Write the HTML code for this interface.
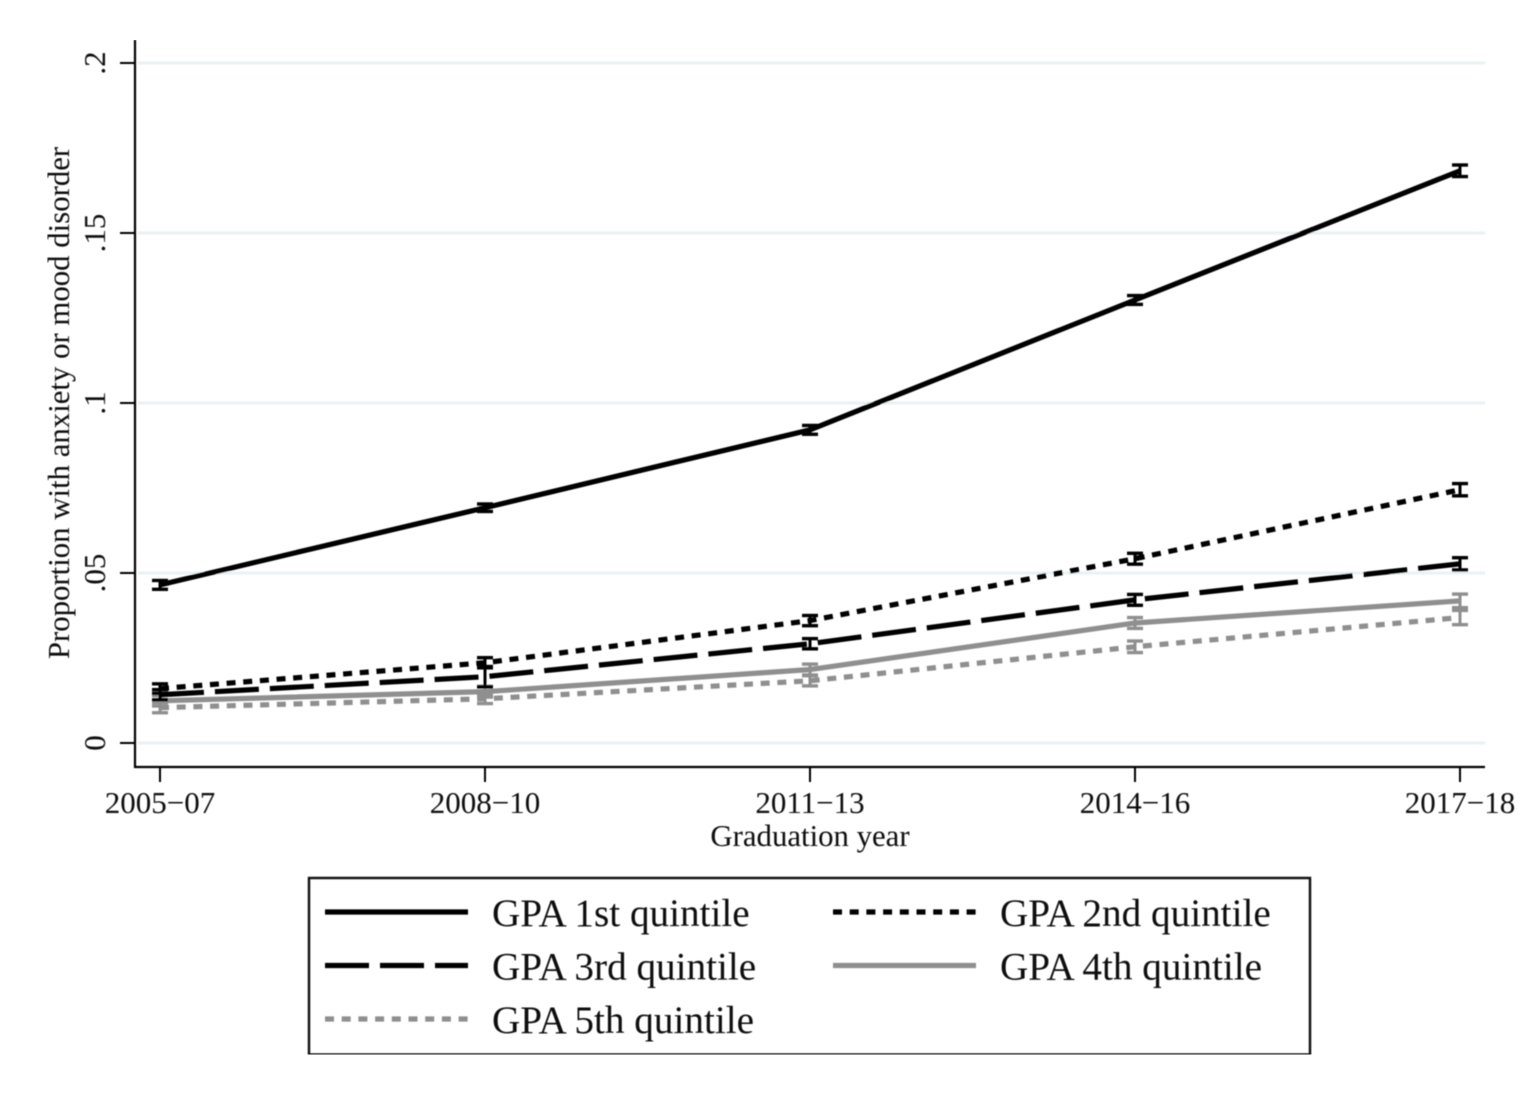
<!DOCTYPE html>
<html lang="en">
<head>
<meta charset="utf-8">
<title>Proportion with anxiety or mood disorder by graduation year</title>
<style>
html,body{margin:0;padding:0;background:#fff;}
svg{display:block;}
text{font-family:"Liberation Serif",serif;fill:#0a0a0a;}
</style>
</head>
<body>
<svg id="chart" xmlns="http://www.w3.org/2000/svg" width="1524" height="1108" viewBox="0 0 1524 1108">
<defs><filter id="soft" x="0" y="0" width="100%" height="100%"><feGaussianBlur stdDeviation="0.45"/></filter></defs>
<g id="root" filter="url(#soft)"></g>
</svg>
<script>
const categories = ["2005\u221207", "2008\u221210", "2011\u221213", "2014\u221216", "2017\u221218"];
const yTicks = [0, 0.05, 0.1, 0.15, 0.2];
const yTickLabels = ["0", ".05", ".1", ".15", ".2"];
const seriesNames = ["GPA 1st quintile", "GPA 2nd quintile", "GPA 3rd quintile", "GPA 4th quintile", "GPA 5th quintile"];
const gpa1 = [0.0465, 0.0692, 0.0921, 0.1303, 0.1683];
const gpa2 = [0.0160, 0.0236, 0.0360, 0.0542, 0.0745];
const gpa3 = [0.0142, 0.0195, 0.0292, 0.0421, 0.0527];
const gpa4 = [0.0124, 0.0151, 0.0216, 0.0353, 0.0418];
const gpa5 = [0.0104, 0.0130, 0.0183, 0.0283, 0.0369];
const gpa1Err = [0.0013, 0.0011, 0.0013, 0.0013, 0.0017];
const gpa2Err = [0.0014, 0.0015, 0.0015, 0.0016, 0.0018];
const gpa3Err = [0.0015, 0.0030, 0.0015, 0.0016, 0.0018];
const gpa4Err = [0.0015, 0.0016, 0.0016, 0.0016, 0.0020];
const gpa5Err = [0.0015, 0.0014, 0.0015, 0.0017, 0.0021];

const xOf = i => 160 + i * 325;
const yOf = v => 743 - v * 3400;
const NS = "http://www.w3.org/2000/svg";
const root = document.getElementById("root");
const BLACK = "#000000";
const GREY = "#8f8f8f";
const SHORT = "9 7.7";
const LONG = "44 11";

function make(tag, props, text) {
  const el = document.createElementNS(NS, tag);
  for (const k in props) el.setAttribute(k, props[k]);
  if (text !== undefined) el.textContent = text;
  root.appendChild(el);
  return el;
}

yTicks.forEach((t, i) => {
  const grid = make("line", {x1: 138, x2: 1485, y1: yOf(t), y2: yOf(t), stroke: "#e9f1f3", "stroke-width": 3});
  
  
  const tick = make("line", {x1: 120, x2: 135, y1: yOf(t), y2: yOf(t), stroke: "#000", "stroke-width": 2});
  
  
  const label = make("text", {transform: `translate(105 ${yOf(t)}) rotate(-90)`, "text-anchor": "middle", "font-size": 31}, yTickLabels[i]);
  
  
});

categories.forEach((c, i) => {
  const tick = make("line", {x1: xOf(i), x2: xOf(i), y1: 767, y2: 782, stroke: "#000", "stroke-width": 2});
  
  
  const label = make("text", {x: xOf(i), y: 813, "text-anchor": "middle", "font-size": 31}, c);
  
  
});

const yAxis = make("line", {x1: 135, x2: 135, y1: 40, y2: 768, stroke: "#000", "stroke-width": 2.2});


const xAxis = make("line", {x1: 134, x2: 1485, y1: 767, y2: 767, stroke: "#000", "stroke-width": 2.2});



const yTitle = make("text", {transform: "translate(69 403) rotate(-90)", "text-anchor": "middle", "font-size": 30.8}, "Proportion with anxiety or mood disorder");


const xTitle = make("text", {x: 810, y: 846, "text-anchor": "middle", "font-size": 30.8}, "Graduation year");



function drawSeries(values, errs, color, dash, name) {
  values.forEach((v, i) => {
    const x = xOf(i);
    const stem = make("line", {x1: x, x2: x, y1: yOf(v - errs[i]), y2: yOf(v + errs[i]), stroke: color, "stroke-width": 3});
    
    
    [v - errs[i], v + errs[i]].forEach(e => {
      const cap = make("line", {x1: x - 8, x2: x + 8, y1: yOf(e), y2: yOf(e), stroke: color, "stroke-width": 3.4});
      
      
    });
  });
  const pts = values.map((v, i) => xOf(i) + "," + yOf(v)).join(" ");
  const props = {points: pts, fill: "none", stroke: color, "stroke-width": 5.2, "stroke-linejoin": "round"};
  if (dash) props["stroke-dasharray"] = dash;
  const line = make("polyline", props);
  
  
}
drawSeries(gpa5, gpa5Err, GREY, SHORT, "gpa-5th-quintile");
drawSeries(gpa4, gpa4Err, GREY, null, "gpa-4th-quintile");
drawSeries(gpa3, gpa3Err, BLACK, LONG, "gpa-3rd-quintile");
drawSeries(gpa2, gpa2Err, BLACK, SHORT, "gpa-2nd-quintile");
drawSeries(gpa1, gpa1Err, BLACK, null, "gpa-1st-quintile");

const box = make("rect", {x: 309, y: 878, width: 1001, height: 176.5, fill: "none", stroke: "#111", "stroke-width": 2.4});



const legendColors = [BLACK, BLACK, BLACK, GREY, GREY];
const legendDashes = [null, SHORT, LONG, null, SHORT];
seriesNames.forEach((n, i) => {
  const col = i % 2;
  const row = Math.floor(i / 2);
  const lx = col ? 833 : 325;
  const ly = 912 + row * 53.5;
  const props = {x1: lx, x2: lx + 143, y1: ly, y2: ly, stroke: legendColors[i], "stroke-width": 5.2};
  if (legendDashes[i]) props["stroke-dasharray"] = legendDashes[i];
  const sample = make("line", props);
  
  
  const label = make("text", {x: col ? 1000 : 492, y: ly + 14, "font-size": 39.2}, n);
  
  
});
</script>
</body>
</html>
